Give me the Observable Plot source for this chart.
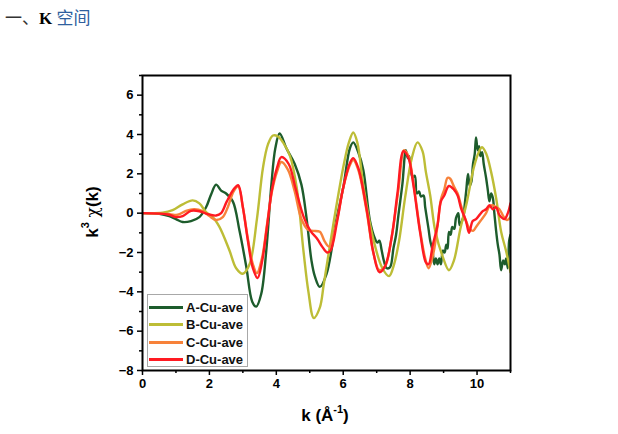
<!DOCTYPE html>
<html><head><meta charset="utf-8">
<script src="https://cdn.jsdelivr.net/npm/d3@7"></script>
<script src="https://cdn.jsdelivr.net/npm/@observablehq/plot@0.6"></script>
<style>
html,body{margin:0;padding:0;background:#fff}
body{width:618px;height:434px;overflow:hidden;position:relative;font-family:"Liberation Sans",Arial,sans-serif}
#chart{position:absolute;left:0;top:0}
#title{position:absolute;left:5px;top:6px;font-size:17px;line-height:22px;white-space:nowrap;font-family:"Liberation Serif","Noto Sans CJK SC",serif}
#title .cjk{font-family:"Noto Sans CJK SC",sans-serif}
#ylab{position:absolute;left:92px;top:212px;transform:translate(-50%,-50%) rotate(-90deg);font-weight:bold;font-size:17px;white-space:nowrap;color:#000}
#ylab .chi{font-weight:normal;font-family:"DejaVu Serif","Liberation Serif",serif;font-size:17px}
#xlab{position:absolute;left:325px;top:416px;transform:translate(-50%,-50%);font-weight:bold;font-size:17px;white-space:nowrap;color:#000}
sup{font-size:11px;vertical-align:top;position:relative;top:-3px}
#legend{position:absolute;left:147px;top:294px;width:101px;height:73px;border:1px solid #a8a8a8;box-sizing:border-box;background:#fff}
.row{position:absolute;left:0;height:16px;display:flex;align-items:center}
.row .ln{width:34px;height:3px;margin-left:1px;margin-right:3px}
.row span{font-weight:bold;font-size:13px;color:#111}
</style></head>
<body>
<div id="chart"></div>
<div id="title"><span class="cjk" style="color:#333">一、</span><b style="color:#000">K</b> <span class="cjk" style="color:#2f5f9e">空间</span></div>
<div id="ylab">k<sup>3</sup> <span class="chi">χ</span>(k)</div>
<div id="xlab">k (Å<sup>-1</sup>)</div>
<div id="legend"></div>
<script>
const seriesNames = ["A-Cu-ave","B-Cu-ave","C-Cu-ave","D-Cu-ave"];
const seriesColors = ["#1d5c2c","#bdbd36","#f7823a","#ff1a22"];
const xTicks = [0,2,4,6,8,10];
const yTicks = [-8,-6,-4,-2,0,2,4,6];
const xMinor = [1,3,5,7,9,11];
const yMinor = [-7,-5,-3,-1,1,3,5,7];

const seriesA = [[0,0],[0.5,-0.03],[0.8,-0.15],[1.0,-0.3],[1.2,-0.45],[1.45,-0.4],[1.7,-0.2],[1.9,0.3],[2.05,0.95],[2.2,1.45],[2.35,1.15],[2.5,1.0],[2.7,0.6],[2.9,-0.9],[3.1,-2.7],[3.28,-4.5],[3.4,-4.75],[3.55,-4.1],[3.7,-1.9],[3.85,1.4],[3.97,3.3],[4.1,4.05],[4.3,3.3],[4.55,2.5],[4.75,1.45],[4.9,-0.2],[5.05,-2.4],[5.15,-3.2],[5.3,-3.75],[5.5,-3.1],[5.8,-0.3],[6.0,1.3],[6.2,3.3],[6.3,3.6],[6.45,3.1],[6.6,2.2],[6.8,-0.4],[6.95,-1.3],[7.02,-1.5],[7.08,-1.4],[7.15,-1.9],[7.22,-2.45],[7.3,-2.8],[7.4,-2.75],[7.5,-1.8],[7.58,-1.1],[7.65,-0.1],[7.77,1.5],[7.87,3.2],[7.93,2.8],[7.97,2.9],[8.07,1.8],[8.14,1.9],[8.2,1.0],[8.27,1.1],[8.32,0.85],[8.4,0.9],[8.45,0.3],[8.55,-0.8],[8.6,-1.4],[8.67,-1.9],[8.72,-2.6],[8.77,-2.3],[8.82,-2.6],[8.87,-2.3],[8.92,-2.6],[8.98,-1.9],[9.03,-2.0],[9.08,-1.6],[9.12,-1.8],[9.16,-0.95],[9.21,-1.1],[9.26,-0.7],[9.32,-0.8],[9.37,-0.25],[9.44,0.0],[9.48,-0.6],[9.55,-0.4],[9.6,-0.1],[9.63,0.4],[9.68,1.2],[9.73,2.0],[9.78,1.4],[9.83,1.6],[9.88,2.5],[9.93,3.0],[9.97,3.85],[10.02,3.2],[10.06,3.4],[10.1,2.9],[10.15,3.1],[10.2,2.5],[10.27,1.8],[10.32,1.2],[10.37,0.6],[10.42,1.0],[10.47,0.8],[10.52,-0.05],[10.57,-0.9],[10.62,-1.6],[10.67,-2.1],[10.72,-2.9],[10.78,-2.4],[10.83,-2.6],[10.87,-2.3],[10.92,-2.8],[10.96,-1.4],[11.0,-1.1]];

const seriesB = [[0,0],[0.6,0.02],[0.9,0.15],[1.2,0.45],[1.5,0.65],[1.7,0.5],[1.9,0.05],[2.1,-0.2],[2.3,-0.7],[2.6,-1.9],[2.8,-2.8],[3.0,-3.08],[3.2,-2.6],[3.42,-0.3],[3.6,2.3],[3.75,3.5],[3.9,3.95],[4.05,3.9],[4.2,3.6],[4.41,2.9],[4.61,1.3],[4.81,-1.9],[4.96,-4.0],[5.12,-5.33],[5.3,-4.8],[5.42,-3.6],[5.72,-0.4],[6.02,2.5],[6.17,3.6],[6.3,4.1],[6.42,3.6],[6.61,1.3],[6.91,-1.4],[7.17,-2.8],[7.37,-3.2],[7.52,-2.6],[7.67,-1.4],[7.85,0.8],[8.05,2.8],[8.22,3.6],[8.37,3.15],[8.47,2.1],[8.6,0.9],[8.75,-0.9],[8.97,-2.2],[9.16,-2.9],[9.31,-2.4],[9.5,-0.8],[9.7,0.6],[9.9,2.3],[10.05,3.1],[10.15,3.35],[10.28,3.0],[10.42,2.1],[10.57,0.77],[10.72,-0.94],[10.87,-1.94],[11.0,-3.0]];

const seriesC = [[0,0],[0.8,-0.05],[1.05,-0.08],[1.3,0.12],[1.55,0.2],[1.8,0.1],[2.0,-0.15],[2.2,-0.35],[2.4,-0.2],[2.55,0.3],[2.72,1.1],[2.86,1.35],[3.0,0.3],[3.15,-1.3],[3.3,-2.6],[3.42,-3.05],[3.57,-2.3],[3.72,-0.6],[3.87,1.1],[4.02,2.1],[4.15,2.6],[4.35,2.2],[4.55,1.1],[4.75,-0.3],[4.95,-0.85],[5.1,-0.9],[5.3,-0.95],[5.45,-1.45],[5.58,-1.7],[5.82,-0.3],[6.0,1.3],[6.2,2.45],[6.3,2.7],[6.45,2.2],[6.7,0.1],[6.9,-2.0],[7.08,-2.9],[7.25,-2.7],[7.45,-1.2],[7.65,1.2],[7.82,3.2],[7.95,2.9],[8.1,1.5],[8.3,-0.9],[8.45,-2.3],[8.55,-2.8],[8.7,-2.0],[8.82,-0.6],[8.92,0.7],[9.02,1.2],[9.12,1.8],[9.2,1.75],[9.31,1.35],[9.42,1.0],[9.52,0.4],[9.67,-0.4],[9.78,-0.8],[9.88,-0.9],[9.97,-0.7],[10.1,-0.4],[10.27,0.0],[10.37,0.35],[10.47,0.4],[10.57,0.3],[10.67,0.2],[10.8,-0.2],[10.9,-0.35],[11.0,-0.2]];

const seriesD = [[0,0],[0.8,-0.08],[1.0,-0.2],[1.2,-0.15],[1.45,0.12],[1.7,0.1],[1.95,-0.05],[2.2,-0.12],[2.35,0.0],[2.52,0.6],[2.72,1.2],[2.86,1.42],[3.0,0.3],[3.15,-1.4],[3.3,-2.8],[3.44,-3.3],[3.57,-2.5],[3.72,-0.7],[3.87,1.2],[4.02,2.3],[4.15,2.85],[4.37,2.5],[4.57,1.3],[4.82,-0.2],[5.02,-0.9],[5.22,-1.3],[5.37,-1.7],[5.52,-2.0],[5.62,-1.9],[5.82,-0.4],[6.0,1.3],[6.2,2.55],[6.3,2.8],[6.45,2.3],[6.7,0.2],[6.9,-2.0],[7.08,-3.0],[7.25,-2.7],[7.45,-1.2],[7.62,1.0],[7.8,3.15],[7.95,2.8],[8.1,1.4],[8.3,-1.0],[8.47,-2.5],[8.55,-2.6],[8.68,-1.6],[8.82,-0.6],[8.92,0.6],[9.02,0.9],[9.16,1.38],[9.31,1.2],[9.42,0.9],[9.52,0.26],[9.67,-0.4],[9.76,-1.0],[9.87,-0.4],[9.97,-0.3],[10.07,-0.1],[10.17,0.1],[10.27,0.2],[10.37,0.4],[10.47,0.2],[10.57,0.3],[10.67,-0.1],[10.82,-0.3],[10.92,0.0],[11.0,0.5]];

const allSeries = [seriesA, seriesB, seriesC, seriesD];
const rows = allSeries.flatMap((s, i) => s.map(([k, v]) => ({k, v, name: seriesNames[i]})));

const plot = Plot.plot({
  width: 618, height: 434,
  marginLeft: 142, marginRight: 108, marginTop: 75, marginBottom: 64,
  style: {fontFamily: '"Liberation Sans", Arial, sans-serif', fontSize: "13px", fontWeight: "bold", color: "#000", background: "#fff"},
  x: {domain: [0, 11]},
  y: {domain: [-8, 7]},
  marks: [
    ...seriesNames.map((n, i) => Plot.line(rows.filter(d => d.name === n), {x: "k", y: "v", stroke: seriesColors[i], strokeWidth: 2.4, curve: "catmull-rom", clip: true})),
    Plot.frame({stroke: "#000", strokeWidth: 2}),
    Plot.axisX({ticks: xTicks, tickSize: 5, tickPadding: 3, strokeWidth: 1.5, label: null, fill: "#000"}),
    Plot.axisX({ticks: xMinor, tickSize: 3, strokeWidth: 1.5, text: null, label: null}),
    Plot.axisY({ticks: yTicks, tickSize: 5, tickPadding: 4, strokeWidth: 1.5, label: null, fill: "#000"}),
    Plot.axisY({ticks: yMinor, tickSize: 3, strokeWidth: 1.5, text: null, label: null})
  ]
});
document.getElementById("chart").appendChild(plot);

const legend = document.getElementById("legend");
const rowTops = [4, 21, 39, 56];
seriesNames.forEach((n, i) => {
  const r = document.createElement("div");
  r.className = "row";
  r.style.top = rowTops[i] + "px";
  r.innerHTML = `<div class="ln" style="background:${seriesColors[i]}"></div><span>${n}</span>`;
  legend.appendChild(r);
});
</script>
</body></html>
